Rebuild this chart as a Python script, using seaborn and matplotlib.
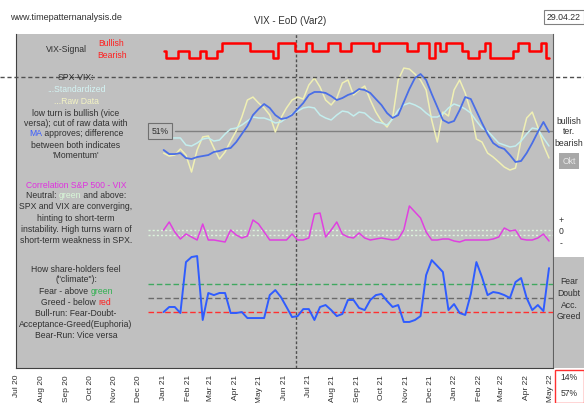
import matplotlib.pyplot as plt
import matplotlib.dates as mdates
import pandas as pd
import seaborn as sns
from matplotlib.lines import Line2D
from matplotlib.patches import Rectangle

W, H = 584, 403

# ---- data (weekly closes, Jan 2021 - Apr 2022) ----
months = pd.date_range("2020-07-01", "2022-05-01", freq="MS")
month_labels = [m.strftime("%b %y") for m in months]
weeks = pd.date_range("2021-01-01", "2022-04-29", freq="W-FRI")
x_start, x_end = pd.Timestamp("2020-06-30"), pd.Timestamp("2022-05-04")
marker_day = pd.Timestamp("2021-06-16")
report_date = "29.04.22"

# VIX signal: 1 bullish, 0 neutral, -1 bearish
vix_signal = [0, -1, -1, 0, 0, -1, -1, 0, -1, -1, 0, 1, 1, 1, 1, 1, 0, 0, 0, 0,
              -1, 1, 1, 1, 0, 0, 1, 0, 0, 0, 1, 1, 0, 0, 1, 1, 1, 1, 0, 1,
              1, 1, 1, 1, 0, 0, 1, 1, -1, 1, 0, 1, 1, 1, 0, -1, -1, 0, 1, -1,
              -1, -1, -1, 0, 1, 1, 0, 0, 1, -1]

# SPX-VIX oscillator (%)
spx_vix_ma = [33.8, 30.1, 30.1, 31.0, 26.5, 25.6, 27.4, 28.3, 29.2, 32.0,
              32.9, 34.7, 35.6, 41.0, 48.3, 55.5, 65.5, 71.0, 75.5, 71.9,
              65.5, 61.9, 62.8, 65.5, 71.0, 76.4, 83.7, 86.4, 86.4, 85.5,
              82.7, 79.1, 80.9, 83.7, 85.5, 89.1, 88.2, 85.5, 80.0, 74.6,
              67.3, 62.8, 65.5, 77.3, 89.1, 99.1, 102.7, 97.3, 84.6, 72.8,
              61.0, 58.3, 60.1, 70.0, 81.8, 80.0, 69.1, 58.3, 48.3, 40.1,
              36.5, 34.7, 29.2, 22.9, 23.8, 31.0, 40.1, 50.1, 59.2, 50.1]
spx_vix_std = [45.6, 44.7, 44.7, 44.7, 38.3, 37.4, 40.1, 43.7, 44.7, 41.9,
               42.8, 48.3, 52.8, 53.7, 56.4, 60.1, 63.7, 62.8, 62.8, 61.0,
               58.3, 59.2, 62.8, 66.4, 69.1, 71.9, 72.8, 71.9, 65.5, 62.8,
               61.0, 65.5, 69.1, 68.2, 64.6, 68.2, 67.3, 62.8, 59.2, 58.3,
               56.4, 61.9, 70.0, 74.6, 76.4, 74.6, 71.9, 67.3, 63.7, 63.7,
               66.4, 71.9, 75.5, 73.7, 71.0, 67.3, 60.1, 53.7, 51.0, 45.6,
               40.1, 38.3, 36.5, 37.4, 41.9, 48.3, 53.7, 52.8, 44.7, 37.4]
spx_vix_raw = [31.0, 28.3, 29.2, 34.7, 29.2, 13.8, 33.8, 45.6, 46.5, 35.6,
               25.6, 32.0, 41.9, 51.0, 63.7, 79.1, 81.8, 76.4, 71.9, 65.5,
               50.1, 62.8, 71.9, 79.1, 81.8, 80.0, 92.7, 99.1, 90.9, 79.1,
               74.6, 80.9, 94.5, 97.3, 83.7, 88.2, 91.8, 79.1, 68.2, 60.1,
               54.6, 62.8, 97.3, 108.1, 107.2, 102.7, 97.3, 88.2, 61.0, 41.0,
               68.2, 64.6, 88.2, 97.3, 85.5, 68.2, 43.7, 41.0, 31.0, 27.4,
               22.9, 18.3, 15.6, 17.4, 42.8, 62.8, 68.2, 54.6, 38.3, 26.5]
spx_vix_level = 51

# Correlation S&P 500 - VIX
correlation = [0.06, 0.22, 0.02, -0.12, -0.02, -0.08, -0.14, 0.18, -0.14, -0.14,
               -0.16, -0.18, 0.06, -0.04, -0.10, -0.06, 0.26, 0.18, 0.02, -0.14,
               -0.14, -0.14, -0.14, -0.02, -0.14, -0.14, -0.10, 0.38, 0.40, -0.08,
               0.06, 0.22, -0.02, -0.08, -0.10, 0.00, -0.10, -0.14, -0.12, -0.10,
               -0.12, -0.14, -0.12, 0.06, 0.54, 0.42, 0.30, 0.02, -0.14, -0.14,
               -0.12, -0.12, -0.16, -0.18, -0.14, -0.14, -0.14, -0.14, -0.14, -0.12,
               -0.08, 0.10, 0.04, 0.06, -0.12, -0.14, -0.14, -0.10, -0.02, -0.16]
neutral_band = [0.06, -0.04]

# Share-holder climate (%)
climate = [30.0, 33.6, 33.6, 29.3, 65.7, 69.3, 70.0, 24.3, 43.6, 42.1,
           43.6, 43.6, 29.3, 29.3, 30.0, 25.7, 25.7, 25.7, 25.7, 42.1,
           45.7, 40.7, 33.6, 26.4, 27.1, 32.1, 32.1, 24.3, 33.6, 35.0,
           31.4, 27.1, 28.6, 38.6, 38.6, 32.9, 31.4, 38.6, 42.1, 42.9,
           37.9, 33.6, 35.0, 22.9, 22.9, 24.3, 27.1, 56.4, 67.1, 62.9,
           58.6, 31.4, 35.7, 29.3, 27.9, 42.9, 65.7, 55.0, 42.1, 44.3,
           43.6, 42.1, 40.0, 51.4, 54.3, 40.0, 31.4, 35.0, 30.7, 61.4]
fear_level, doubt_level, greed_level = 50, 40, 30
summary = ["14%", "57%"]

GRAY = "#c0c0c0"
DARK = "#303030"

sns.set_style("white")
plt.rcParams["font.family"] = ["Liberation Sans", "DejaVu Sans"]

fig = plt.figure(figsize=(W / 100, H / 100), dpi=100)


def fx(px):
    return px / W


def fy(py):
    return 1 - py / H


# gray plot area with the date axis
bg = fig.add_axes([fx(16), fy(368), (553 - 16) / W, (368 - 34) / H])
bg.set_facecolor(GRAY)
bg.set_ylim(0, 5)
bg.set_yticks(range(6))
bg.set_yticklabels([])
for side in ["top"]:
    bg.spines[side].set_visible(False)
bg.spines["left"].set_color("#404040")
bg.spines["bottom"].set_color("#404040")
bg.spines["right"].set_color("#606060")
bg.tick_params(length=3, width=0.8, colors="#404040", pad=2, labelsize=6,
               labelcolor=DARK)


def add_panel(top, bottom, ylim):
    ax = fig.add_axes([fx(16), fy(bottom), (553 - 16) / W, (bottom - top) / H],
                      sharex=bg)
    ax.set_ylim(*ylim)
    ax.set_axis_off()
    return ax


ax1 = add_panel(34, 76, (-3.4, 2.2))
ax2 = add_panel(76, 175, (11.1, 100.9))
ax3 = add_panel(175, 252, (-0.38, 1.16))
ax4 = add_panel(252, 368, (-10, 72.9))

# panel 1: signal
sns.lineplot(x=weeks, y=vix_signal, ax=ax1, color="#ff0000", linewidth=1.8,
             drawstyle="steps-mid", clip_on=False)

# panel 2: SPX-VIX
ax2.axhline(spx_vix_level, xmin=(175 - 16) / 537, color="#808080", lw=1)
sns.lineplot(x=weeks, y=spx_vix_raw, ax=ax2, color="#f0f0b4", linewidth=1.1,
             clip_on=False)
sns.lineplot(x=weeks, y=spx_vix_std, ax=ax2, color="#c4eeee", linewidth=1.1,
             clip_on=False)
sns.lineplot(x=weeks, y=spx_vix_ma, ax=ax2, color="#4a6ee6", linewidth=1.3,
             clip_on=False)

# panel 3: correlation
for lvl in neutral_band:
    ax3.axhline(lvl, xmin=(148 - 16) / 537, color="#dcf4dc", lw=1,
                linestyle=(0, (1.5, 1.5)))
sns.lineplot(x=weeks, y=correlation, ax=ax3, color="#e040e0", linewidth=1.1,
             clip_on=False)

# panel 4: climate
for lvl, col in [(fear_level, "#40a860"), (doubt_level, "#6a6a6a"),
                 (greed_level, "#ff3030")]:
    ax4.axhline(lvl, xmin=(148 - 16) / 537, color=col, lw=1,
                linestyle=(0, (4, 2)))
sns.lineplot(x=weeks, y=climate, ax=ax4, color="#2f5cff", linewidth=1.4,
             clip_on=False)

for ax in (ax1, ax2, ax3, ax4):
    ax.set_xlabel("")
    ax.set_ylabel("")

bg.axvline(mdates.date2num(marker_day), color="#505050", lw=1,
           linestyle=(0, (2, 1.5)))
bg.set_xlim(mdates.date2num(x_start), mdates.date2num(x_end))
bg.set_xticks(mdates.date2num(months.to_pydatetime()))
bg.set_xticklabels(month_labels, rotation=90)

# full-width dashed separator
fig.add_artist(Line2D([0, 1], [fy(77), fy(77)], color="#505050", lw=1,
                      linestyle=(0, (3, 2))))

# right side gray strip and boxes
fig.add_artist(Rectangle((fx(554), fy(368)), 30 / W, (368 - 257) / H,
                         facecolor=GRAY, edgecolor="none"))
fig.add_artist(Rectangle((fx(554.5), fy(402.5)), 29 / W, 33 / H,
                         facecolor="white", edgecolor="#ff3030", lw=1))
fig.add_artist(Rectangle((fx(543.5), fy(24)), 40 / W, 14 / H,
                         facecolor="white", edgecolor="#808080", lw=0.8))

FS = 6.2


def txt(x, y, s, color=DARK, **kw):
    kw.setdefault("fontsize", FS)
    kw.setdefault("ha", "center")
    return fig.text(fx(x), fy(y), s, color=color, va="center", **kw)


renderer = fig.canvas.get_renderer()


def mixed(xc, y, parts, **kw):
    texts = [txt(0, y, s, color=c, ha="left", **kw) for s, c in parts]
    widths = [t.get_window_extent(renderer).width for t in texts]
    x = xc - sum(widths) / 2
    for t, w in zip(texts, widths):
        t.set_x(fx(x))
        x += w


txt(10, 17, "www.timepatternanalysis.de", ha="left", fontsize=6.5)
txt(290, 21, "VIX - EoD (Var2)", fontsize=7)
txt(563.5, 17, report_date, fontsize=6.3)

txt(66, 50, "VIX-Signal")
txt(111, 44, "Bullish", color="#ff2020")
txt(112, 56, "Bearish", color="#ff2020")

left_notes = [
    (77, [("SPX-VIX:", DARK)]),
    (89, [("...Standardized", "#d4f4f4")]),
    (101, [("...Raw Data", "#f4f4c4")]),
    (113, [("low turn is bullish (vice", DARK)]),
    (123.5, [("versa); cut of raw data with", DARK)]),
    (134, [("MA", "#3a5cff"), (" approves; difference", DARK)]),
    (145, [("between both indicates", DARK)]),
    (156, [("'Momentum'", DARK)]),
    (185, [("Correlation S&P 500 - VIX", "#e030e0")]),
    (196, [("Neutral: ", DARK), ("green", "#d8f8d8"), (" and above:", DARK)]),
    (207, [("SPX and VIX are converging,", DARK)]),
    (218.5, [("hinting to short-term", DARK)]),
    (229.5, [("instability. High turns warn of", DARK)]),
    (240.5, [("short-term weakness in SPX.", DARK)]),
    (269, [("How share-holders feel", DARK)]),
    (280, [('("climate"):', DARK)]),
    (291.5, [("Fear - above ", DARK), ("green", "#30b050")]),
    (302.5, [("Greed - below ", DARK), ("red", "#ff2020")]),
    (313.5, [("Bull-run: Fear-Doubt-", DARK)]),
    (324.5, [("Acceptance-Greed(Euphoria)", DARK)]),
    (335.5, [("Bear-Run: Vice versa", DARK)]),
]
for y, parts in left_notes:
    mixed(76, y, parts)

txt(160, 131, f"{spx_vix_level}%",
    bbox=dict(boxstyle="square,pad=0.35", facecolor=GRAY, edgecolor="#707070",
              lw=0.8))

txt(569, 121, "bullish")
txt(569, 132, "ter.")
txt(569, 143, "bearish")
txt(569, 161, "Okt", color="#e8e8e8",
    bbox=dict(boxstyle="square,pad=0.4", facecolor="#a8a8a8", edgecolor="none"))
txt(561, 220, "+")
txt(561, 232, "0")
txt(561, 244, "-")
for y, s in [(282, "Fear"), (293.5, "Doubt"), (305, "Acc."), (316.5, "Greed")]:
    txt(569, y, s)
txt(569, 378, summary[0])
txt(569, 393, summary[1])

plt.savefig("out.png", dpi=100)
